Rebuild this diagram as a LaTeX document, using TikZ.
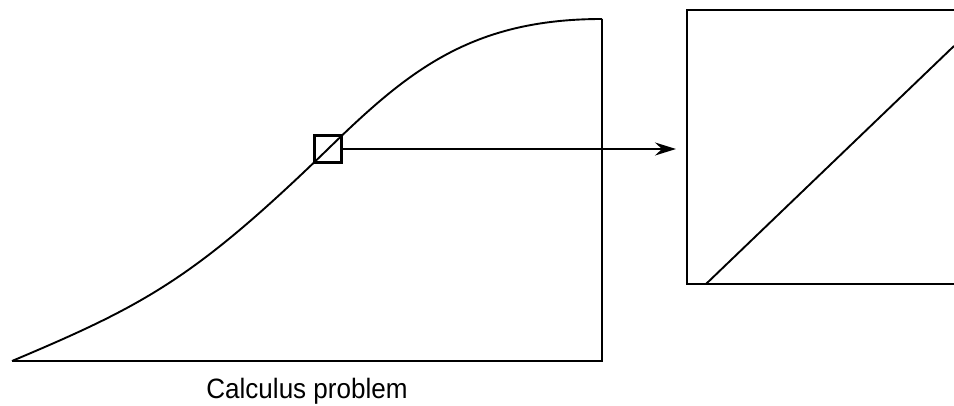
\documentclass[tikz,border=0pt]{standalone}
\usepackage{fontspec}
\setmainfont{Liberation Sans}
\usetikzlibrary{arrows.meta}

\begin{document}
\begin{tikzpicture}[
  x=1pt, y=-1pt,
  curve/.style={line width=1.9pt, line join=round},
  frame/.style={line width=1.5pt},
  zoombox/.style={draw, line width=2.2pt, minimum size=27pt, inner sep=0pt},
  viewbox/.style={line width=2.6pt},
  pointer/.style={line width=2pt, -{Stealth[length=21pt, width=13pt, inset=7pt]}}
]
\useasboundingbox (0,0) rectangle (954,406);
% graph
\coordinate (start) at (12,361);
\coordinate (top) at (602,19);
\coordinate (corner) at (602,361);
\draw[curve] (start) .. controls (145,305) and (195,278) .. (328,149)
  .. controls (408,71) and (471,19) .. (top);
\draw[frame] (start) -- (corner) -- (top);
\node[zoombox] (zoom) at (328,149) {};
% magnified view
\draw[viewbox] (954,10) -- (687,10) -- (687,284) -- (954,284);
\coordinate (view) at (676,149);
\draw[curve] (706,284) -- (954,46);
\draw[pointer] (zoom.east) -- (view);
\node[font=\fontsize{28}{30}\selectfont, anchor=base, inner sep=0pt] (caption) at (307,399) {\scalebox{0.93}[1]{Calculus problem}};
\end{tikzpicture}
\end{document}
